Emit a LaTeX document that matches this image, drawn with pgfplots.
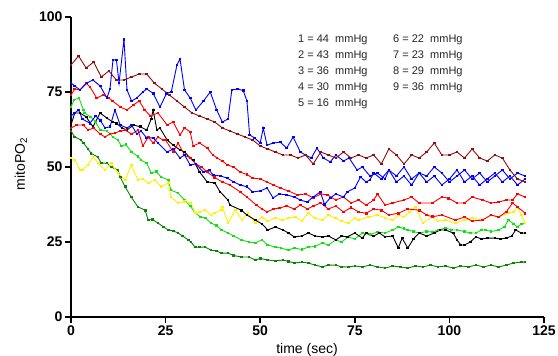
\documentclass[border=0pt]{standalone}
\usepackage{pgfplots}
\pgfplotsset{compat=1.18}
\usepackage{fontspec}
\setmainfont{Liberation Sans}
\definecolor{cmaroon}{RGB}{145,12,12}
\definecolor{cblue}{RGB}{0,0,255}
\definecolor{cred}{RGB}{255,0,0}
\definecolor{cyellow}{RGB}{255,240,0}
\definecolor{cgreen}{RGB}{20,225,20}
\definecolor{cdgreen}{RGB}{10,130,10}
\begin{document}
\begin{tikzpicture}
\path[use as bounding box] (0,0) rectangle (558pt,356pt);
\begin{axis}[
  at={(71pt,39pt)}, anchor=south west,
  scale only axis, width=473pt, height=300pt,
  xmin=0, xmax=125, ymin=0, ymax=100,
  axis lines*=left,
  axis line style={line width=2pt},
  xtick={0,25,...,125}, ytick={0,25,...,100},
  tick style={line width=1.8pt, black},
  major tick length=6pt,
  tick align=outside,
  ticklabel style={font=\bfseries\fontsize{14}{15}\selectfont},
  xticklabel style={yshift=1pt},
  yticklabel style={xshift=1pt},
  /pgf/number format/assume math mode=true,
  every axis plot/.append style={line width=0.9pt, mark=square*, mark size=0.85pt},
]
% dark green
\addplot[cdgreen, mark options={fill=cdgreen}] table {
0 62
1 60
2.6 59
3.3 58
4.5 56
5.3 54.6
7.1 53.3
8 51.3
9.5 51.3
10.6 50
12.4 49
13 46.7
14.3 43.4
15.9 40
17.7 36.7
19.6 35.6
20.4 32.3
21.5 32.5
23 31.3
24.5 30
25.7 29
27 28.7
28.3 28
29.5 27
31 25.7
31.7 25
32.8 23.3
34 23.3
35.4 23.3
37 22.3
38.5 22
39.7 21.3
41.5 21.3
43 20.5
45 20
47 20
48.7 19
50 19.5
52 19
54 18.7
56 19
57.5 18.5
59 18
61 18.3
62.7 18
64.5 17.3
66.4 16.7
68 17.3
70 17.3
71.5 16.7
73.3 16.7
75 17
77 16.7
79 17.3
81 16.7
83 16.3
85 17
87 16.7
89 16.3
91 17
93 16.7
95 17.3
97 16.7
99 17
101 16.3
103 17
105 16.7
107 17.3
109 16.7
111 17.3
113 16.7
115 17.3
117 18
119 18.3
120 18.3
};
% bright green
\addplot[cgreen, mark options={fill=cgreen}] table {
0 70
0.8 72.3
2.1 73
3.3 69
3.6 68
5.2 66.7
6.5 65
7.7 62.3
9.5 62
11.1 60
12.4 59
13.3 57
14.5 57.5
16 55
17.7 53.5
18.5 52.3
20 51.3
21.2 48
22.5 48.5
23.8 46.7
25.7 45.7
26.4 42.3
28.3 41.3
30 39
31.5 37
32.8 34.7
34.3 33.3
35.5 33
37 31.3
38.5 30.5
39.7 29
41.5 28
43 27
45 25.7
47 25
48.7 24.7
50.5 25.7
52 24
54 23.3
55.5 23
57.4 22.3
59 23
61 22.5
62.7 23.3
64.5 23.5
66.4 24.7
68 24
70 25.7
71.5 25
73.3 26.7
75 26
77 28
79 27.5
81 28.3
83 28
85 29
86.5 30
88 29.5
89 29
90.5 28.5
92 28
94 28.5
95.5 28.3
97 29
99 29.7
100.5 29
102 29
104 28.5
105.5 28
107 28
108.5 29
109.5 29
111 28.5
113 29
114.5 30
115.6 32.3
117 31
118 30
119 31
120 31.3
};
% yellow
\addplot[cyellow, mark options={fill=cyellow}] table {
0 53
1 52.3
2.4 49
3 49
4.5 50.7
5.8 53.3
7.2 51.3
9 49
10.6 51.3
12.4 48
14.3 45.7
15.9 50.7
17.7 45.7
19 46
20.4 44.7
22.2 45.7
23.8 43.4
25.7 44.7
26.4 40
28.3 38
30 38.5
31.7 38
32.8 34.7
34 35
35.4 35.7
37 34
38 34.7
39.7 35.7
40 36.7
41.5 31.3
43.4 35.7
45.2 32.3
46.8 34.7
48.7 31.3
50.5 33.3
52 32
54 33
55.8 32.3
57.5 33
59.3 33.3
61 32
62.7 34.7
64.5 33
66.4 32.3
68 34
69.8 33
71.5 32
73.3 31.3
75 33
76 32.3
78.6 33.3
81 34
83 33
85 32.3
86.5 34
88 33.3
89.5 35
91 36.7
93 31.3
95.5 33.3
97 32
99 32.3
101.6 31.3
104 32.3
106 33
108.7 32.3
111 34
113 33.3
115.6 34.7
117 35
118 36.7
119 34
120 31.3
};
% black
\addplot[black, mark options={fill=black}] table {
0 64
1 68
2.4 68
4 66.7
5.8 63.4
7.7 68
9.5 66.3
11 65
12 64.6
13.5 63
14.8 62.3
16.5 64
18.3 63.4
20 62.3
21.2 66
21.7 69
22.7 62.3
23.5 63
25.4 59
27 57.3
28.8 55.7
30 55
31.5 53
32.3 52.3
34 48.3
36 45
38 44.7
39.4 41.7
41.5 39
42 37.3
45 35.6
46.5 34
48.7 32.3
50.5 31
52 29
54 30
56 29
57.5 28
59 26.7
61 27
62.7 28
64.5 27
66.4 26.7
68 27
70 25.7
71.5 27
73 26.7
75 28
77 26.3
78 28
80 27
81.5 28
83 26.7
85 27
86.5 23
87.5 26.3
89 23
90.5 26
92 28
94 27
96 28
97.5 29
99 29
101 28
102 25.7
103 24
104 24
105.5 25
107 26.7
108.5 26
110 26.3
112 26.3
113.5 26
115 26.3
116.5 27
117.5 29
119 28
120 28
};
% red B
\addplot[cred, mark options={fill=cred}] table {
0 63
1.5 64
3.3 64
4.5 62.3
6 63
7.7 61
9 60
10.3 61
11.6 61.3
13 62
14.3 62.3
16 61
17.7 62.3
19 57
20.4 60
21.7 58
23 60
24.3 59
25 59
27 55
28.3 58
30 54
31.5 53
33 51
34.5 50
36 48.3
38 46.5
40 45
42 44
44.7 41.7
46.5 40
49 37.3
50.5 36
51.8 35
53.5 36
55 36.3
57 37
59 36
60.6 37.3
62.5 36
64 37
66 38
68 36
70 37
72 35
74 36.5
76 35
78 34.6
80 36
82 35.6
84 34
86.5 34.6
89 36
92 35.6
94 34
95.5 33.4
98 34
101.6 32.3
104 33.3
106 32
108.7 32.3
111 34
113 33.3
115 35
116.7 38
118 36.7
120 34.6
};
% red A
\addplot[cred, mark options={fill=cred}] table {
0 74
1 76
2.4 75.7
4 78
5 76.7
6.8 73
8.5 74
10 73
11 72
13 70
14.8 69
16.5 70.7
18 72
19.5 69
21 67
23 68
25.4 64
27 65
28.8 60.7
30 63
31.5 61.7
32.3 57
34 58
36 56.3
37.5 54
38.6 53
40 52
41.3 50.7
43 50
44.7 48.3
46.5 47.5
48 46.3
50 46
51.8 45
53.5 44
55.3 43
57.5 42
59.8 40.7
62 41
64 39.7
66 41
67.7 40.7
70 39
72 40
74 38
76 39
78 37.3
80 39
81 41
83 37.3
85 38
88 39
90 40
92 38
95.5 38
98 40
99.8 39.6
102 38
104 38
106 40
108.7 39
111 38
113 38.3
115 39
116.7 39
118 41
120 40
};
% blue B
\addplot[cblue, mark options={fill=cblue}] table {
0 67
1 68
2 69
3 66
5 64.6
6.5 67
7.7 65.6
9 63
10.3 63.4
11.6 69
13 64
14.8 63
16 64
17.4 61
18.5 62
20 59.7
21.7 59.7
23 58
25.4 55
27 56
28.8 53
30 54
31.5 50.7
33 51
35 48.3
36.5 49
37.6 47.3
39.5 47
41.3 46.3
43 45
44.7 44
46.5 43.4
48 41.7
50 42
51.8 43
53.4 39.7
55 41
57 40.7
59 40
60.6 39
62.4 38.3
64 40
65.9 41.7
67 37.5
68.5 39.7
70 41
72 40
73 41.7
75 43
76.5 46.7
78 45
79 45.7
80 48
82 46
84 49
86 47
88 50
90 46
92 48
94 47
96 50
98 48
100 45
102 47
104 49
106 46
108 48
110 45
112 47
114 49
116 46
118 48
120 47
};
% blue A
\addplot[cblue, mark options={fill=cblue}] table {
0 78
1 77
2.4 75.7
4.2 78
5.8 79
7.7 77
9.5 73
10.3 76
11.1 85.7
12 85.7
12.7 78
14 92.6
14.8 75.7
16 72
17.4 73
19 75
20 76
21.7 74.6
23.5 70
25.3 74.6
26.5 75
28 84
28.8 86
30 75.7
31.5 73
33 69
35 72
36.8 75
38.5 69
40 65
41.5 66
42.5 75.7
44 76
45.5 75.5
46.5 72
47.2 60.7
48.5 59.7
50 58
50.8 63
51.8 57.3
53.5 58
55.3 58.3
57 56.3
58.7 60
60.6 55
62 54
63.5 53
65 56.3
66.7 53
68.5 51.7
70 54
72 52
73.5 53
75.6 49
77 50
79 47
81 48
83 46
84 49
86 45
88 47
90 44
92 48
94 45
96 47
98 44
100 46
102 49
104 45
106 47
108 44
110 46
112 48
114 45
116 47
118 44
120 46
};
% maroon
\addplot[cmaroon, mark options={fill=cmaroon}] table {
0 84
2 87
4 83
6 85
8 80
10 82
12 79
14 79
16 80
18 81
20 81
22 78
24 76
26 74
28 72
30 70
32 68
34 67
36 66
38 65
40 63
42 62
44 61
46 60
48 59
50 57
52 56
54 55
56 54
58 54
60 53
62 54
64 51
66 55
68 54
70 53
72 55
74 53
76 54
78 53
80 54
82 51
84 56
86 54
88 51
90 54
92 53
94 55
96 58
98 54
100 54
102 55
104 53
106 56
108 53
110 52
112 54
114 53
116 49
118 46
120 45
};
\end{axis}
\node[font=\fontsize{14}{16}\selectfont] at (307pt,6pt) {time (sec)};
\node[font=\fontsize{14}{16}\selectfont, rotate=90] at (21pt,192pt) {mitoPO\textsubscript{2}};
\begin{scope}[every node/.style={anchor=west, inner sep=0pt, font=\fontsize{11}{13}\selectfont, text=black!85}]
\node at (298pt,316pt) {1 = 44\ \ mmHg};
\node at (298pt,300pt) {2 = 43\ \ mmHg};
\node at (298pt,284pt) {3 = 36\ \ mmHg};
\node at (298pt,268pt) {4 = 30\ \ mmHg};
\node at (298pt,252pt) {5 = 16\ \ mmHg};
\node at (393pt,316pt) {6 = 22\ \ mmHg};
\node at (393pt,300pt) {7 = 23\ \ mmHg};
\node at (393pt,284pt) {8 = 29\ \ mmHg};
\node at (393pt,268pt) {9 = 36\ \ mmHg};
\end{scope}
\end{tikzpicture}
\end{document}
